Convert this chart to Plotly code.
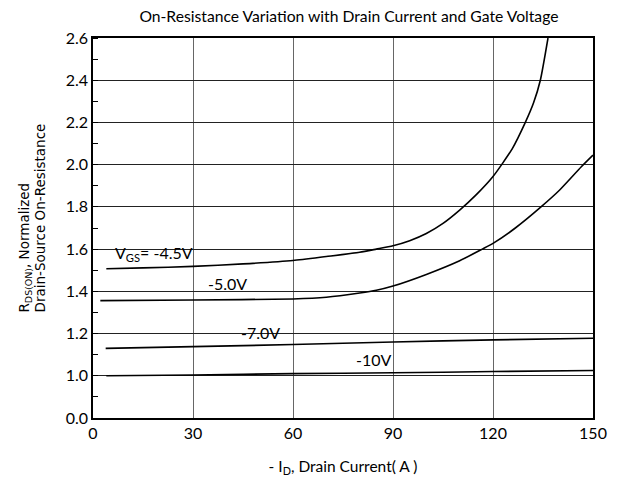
import plotly.graph_objects as go

# ---- data ----
id_45 = [4, 15, 30, 45, 60, 70, 80, 85, 90, 95, 100, 105, 110, 115, 120, 125.8, 129.7, 132.2, 134.2, 136.5]
r_45 = [1.507, 1.511, 1.518, 1.530, 1.546, 1.565, 1.585, 1.600, 1.616, 1.640, 1.674, 1.722, 1.785, 1.858, 1.944, 2.076, 2.200, 2.294, 2.400, 2.600]

id_50 = [2.2, 30, 60, 70, 80, 85, 90, 100, 110, 116.8, 120, 126.7, 134.4, 140, 146.5, 150]
r_50 = [1.356, 1.359, 1.364, 1.372, 1.392, 1.405, 1.425, 1.480, 1.545, 1.600, 1.627, 1.700, 1.800, 1.880, 1.990, 2.045]

id_70 = [3.8, 30, 60, 90, 120, 150]
r_70 = [1.130, 1.138, 1.148, 1.160, 1.170, 1.178]

id_10 = [4, 30, 60, 90, 120, 150]
r_10 = [1.000, 1.004, 1.010, 1.014, 1.020, 1.025]

curve_labels = ["V<sub>GS</sub>= -4.5V", "-5.0V", "-7.0V", "-10V"]
label_x = [5.9, 34, 43.9, 78.4]
label_y = [1.58, 1.435, 1.2035, 1.078]

x_ticks = [0, 30, 60, 90, 120, 150]
y_tickvals = [0.8, 1.0, 1.2, 1.4, 1.6, 1.8, 2.0, 2.2, 2.4, 2.6]
y_ticktext = ["0.0", "1.0", "1.2", "1.4", "1.6", "1.8", "2.0", "2.2", "2.4", "2.6"]

title = "On-Resistance Variation with Drain Current and Gate Voltage"
x_title = "- I<sub>D</sub>, Drain Current( A )"
y_title_lines = ["R<sub>DS(ON)</sub>, Normalized", "Drain-Source On-Resistance"]

CAL = "Lato, Carlito, Calibri, sans-serif"

fig = go.Figure()
for xs, ys in [(id_45, r_45), (id_50, r_50), (id_70, r_70), (id_10, r_10)]:
    fig.add_trace(go.Scatter(x=xs, y=ys, mode="lines",
                             line=dict(color="black", width=1.6, shape="spline", smoothing=0.6),
                             showlegend=False, hoverinfo="skip"))

for t, lx, ly in zip(curve_labels, label_x, label_y):
    fig.add_annotation(x=lx, y=ly, text=t, showarrow=False, xanchor="left", yanchor="middle",
                       font=dict(family=CAL, size=16, color="black"))

for t, px in zip(y_title_lines, [-0.1357, -0.1068]):
    fig.add_annotation(xref="paper", yref="paper", x=px, y=0.2727, text=t, showarrow=False,
                       textangle=-90, xanchor="center", yanchor="bottom",
                       font=dict(family="DejaVu Sans", size=13.5, color="black"))

fig.update_layout(
    width=611, height=477,
    margin=dict(l=85, r=25, t=30, b=62),
    paper_bgcolor="white", plot_bgcolor="white",
    title=dict(text=title, x=0.558, xanchor="center", y=0.983, yanchor="middle",
               font=dict(family=CAL, size=15.7, color="black")),
    xaxis=dict(range=[0, 150], tickvals=x_ticks, showgrid=True, gridcolor="#666", gridwidth=1,
               showline=True, linecolor="black", linewidth=1.5, mirror=True, ticks="", zeroline=False,
               tickfont=dict(family=CAL, size=16, color="black"),
               title=dict(text=x_title, font=dict(family=CAL, size=15.5, color="black"), standoff=20)),
    yaxis=dict(range=[0.8, 2.6], tickvals=y_tickvals, ticktext=y_ticktext, showgrid=True,
               gridcolor="#222", gridwidth=1, showline=True, linecolor="black", linewidth=1.5,
               mirror=True, ticks="", zeroline=False,
               tickfont=dict(family=CAL, size=16, color="black"),
               minor=dict(tick0=0.8, dtick=0.1, ticks="inside", ticklen=5, tickcolor="black",
                          tickwidth=1, showgrid=False)),
)

fig.write_html("out.html")
